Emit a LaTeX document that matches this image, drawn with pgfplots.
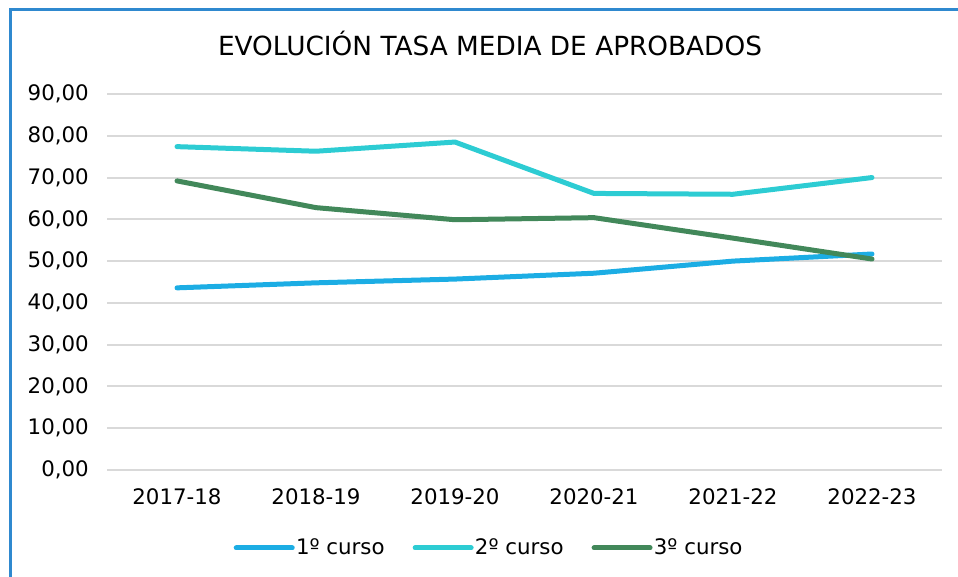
\documentclass[border=0pt]{standalone}
\usepackage{fontspec}
\setmainfont{DejaVu Sans}
\usepackage{pgfplots}
\pgfplotsset{compat=1.18}
\usepackage{xcolor}
\definecolor{cursoA}{HTML}{1CADE4}
\definecolor{cursoB}{HTML}{2DCCD3}
\definecolor{cursoC}{HTML}{42885A}
\definecolor{marco}{HTML}{2F89CF}
\definecolor{rejilla}{HTML}{D9D9D9}

\begin{document}
\begin{tikzpicture}
\useasboundingbox (0,0) rectangle (718.5pt,432.75pt);
\draw[marco, line width=2.25pt] (7.5pt,0) -- (7.5pt,425.25pt) -- (718.5pt,425.25pt);
\node[font=\fontsize{19.75}{22}\selectfont] at (367.5pt,400.5pt) {EVOLUCIÓN TASA MEDIA DE APROBADOS};
\begin{axis}[
  at={(80.625pt,80.25pt)}, anchor=south west,
  scale only axis, width=625.5pt, height=282pt,
  xmin=-0.5, xmax=5.5, ymin=0, ymax=90,
  xtick={0,...,5},
  xticklabels={2017-18,2018-19,2019-20,2020-21,2021-22,2022-23},
  ytick={0,10,...,90},
  axis line style={draw=none},
  major tick length=0pt,
  ymajorgrids, grid style={rejilla, line width=1.5pt},
  tick label style={font=\fontsize{16}{19}\selectfont},
  xticklabel style={yshift=-10.5pt},
  yticklabel style={xshift=-10.5pt},
  /pgf/number format/.cd, assume math mode=true, fixed, fixed zerofill, precision=2, use comma,
  /pgfplots/.cd,
  every axis plot/.append style={line width=3.75pt, line cap=round, line join=round, mark=none},
  legend columns=3,
  legend style={at={(0.458,-0.2074)}, anchor=center, draw=none, fill=none,
    font=\fontsize{16}{19}\selectfont,
    /tikz/every odd column/.append style={column sep=-1pt},
    /tikz/every even column/.append style={column sep=19pt}},
  legend image code/.code={\draw[#1] (0pt,0pt) -- (42pt,0pt);},
]
\addplot[cursoA] coordinates {(0,43.6) (1,44.8) (2,45.7) (3,47.1) (4,50.0) (5,51.7)};
\addplot[cursoB] coordinates {(0,77.4) (1,76.3) (2,78.5) (3,66.2) (4,66.0) (5,70.0)};
\addplot[cursoC] coordinates {(0,69.2) (1,62.8) (2,59.9) (3,60.4) (4,55.5) (5,50.5)};
\legend{1º curso, 2º curso, 3º curso}
\end{axis}
\end{tikzpicture}
\end{document}
